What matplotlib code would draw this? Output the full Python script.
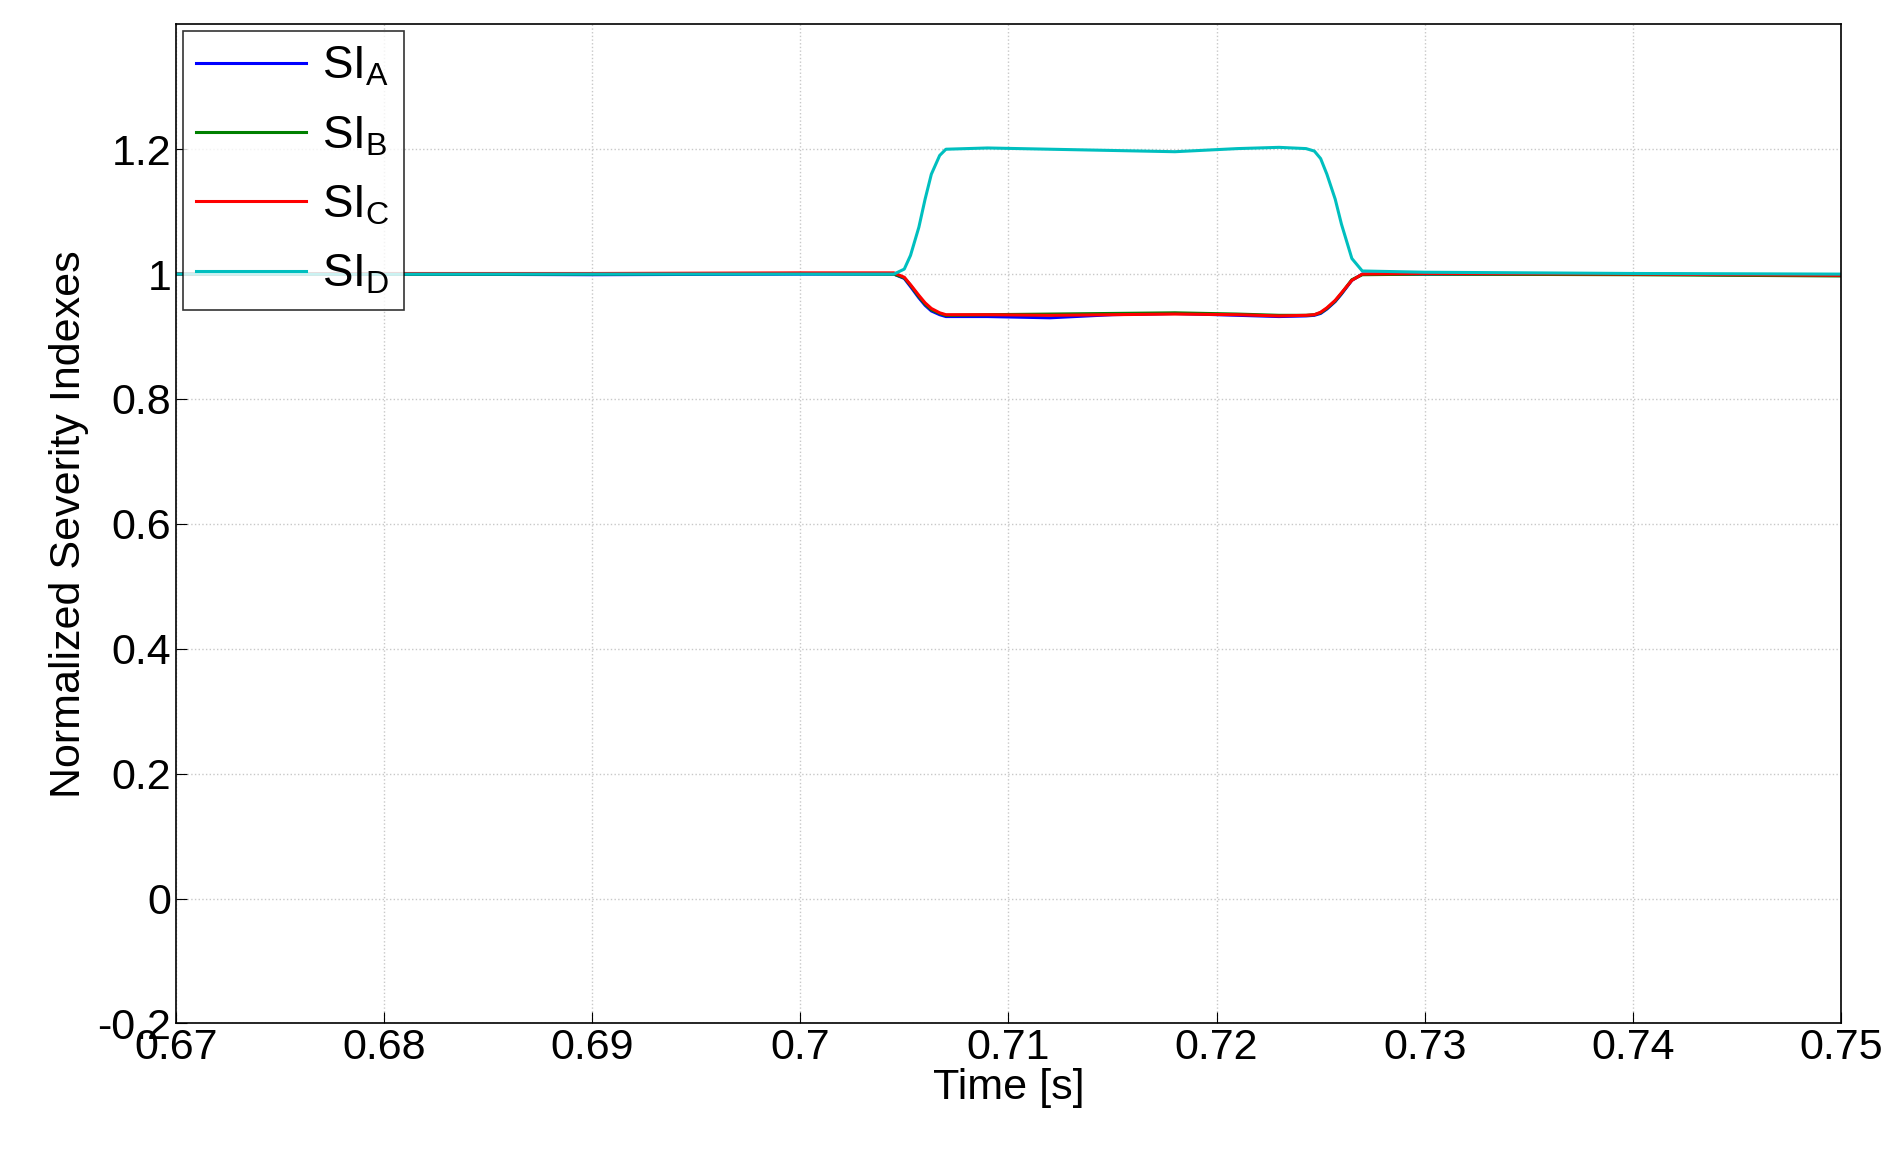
import matplotlib
matplotlib.use('Agg')
import matplotlib.pyplot as plt

plt.rcParams['font.family'] = ['Liberation Sans', 'DejaVu Sans']
plt.rcParams['mathtext.fontset'] = 'custom'
plt.rcParams['mathtext.rm'] = 'Liberation Sans'

t = [0.670, 0.680, 0.690, 0.700, 0.7045, 0.705, 0.7053, 0.7057, 0.706, 0.7063, 0.7067, 0.707, 0.709,
     0.712, 0.715, 0.718, 0.721, 0.723, 0.7243, 0.7247, 0.725, 0.7253, 0.7257, 0.726, 0.7265, 0.727,
     0.730, 0.740, 0.750]
si_a = [1.0, 1.0, 0.999, 1.0, 1.0, 0.993, 0.98, 0.962, 0.95, 0.941, 0.935, 0.932, 0.932,
        0.930, 0.935, 0.937, 0.934, 0.932, 0.933, 0.934, 0.937, 0.944, 0.956, 0.968, 0.99, 1.0,
        1.0, 1.0, 0.998]
si_b = [1.0, 1.0, 1.0, 1.001, 1.0, 0.994, 0.982, 0.964, 0.952, 0.943, 0.937, 0.934, 0.935,
        0.936, 0.937, 0.938, 0.936, 0.934, 0.934, 0.935, 0.938, 0.945, 0.957, 0.969, 0.991, 0.999,
        1.0, 0.999, 0.997]
si_c = [1.0, 1.001, 1.001, 1.002, 1.002, 0.995, 0.983, 0.966, 0.954, 0.945, 0.938, 0.935, 0.935,
        0.934, 0.935, 0.936, 0.935, 0.933, 0.934, 0.935, 0.939, 0.946, 0.958, 0.97, 0.99, 1.0,
        1.001, 1.0, 0.998]
si_d = [1.0, 1.0, 1.0, 1.0, 1.0, 1.008, 1.03, 1.075, 1.12, 1.16, 1.19, 1.2, 1.202,
        1.2, 1.198, 1.196, 1.201, 1.203, 1.201, 1.197, 1.185, 1.16, 1.12, 1.08, 1.025, 1.005,
        1.003, 1.001, 1.0]

fig = plt.figure(figsize=(18.99, 11.59), dpi=100)
ax = fig.add_axes([0.0925, 0.117, 0.877, 0.862])
ax.plot(t, si_a, color='#0000ff', lw=2.2, label='SI$_\\mathregular{A}$')
ax.plot(t, si_b, color='#008000', lw=2.2, label='SI$_\\mathregular{B}$')
ax.plot(t, si_c, color='#ff0000', lw=2.2, label='SI$_\\mathregular{C}$')
ax.plot(t, si_d, color='#00bfbf', lw=2.2, label='SI$_\\mathregular{D}$')

ax.set_xlim(0.67, 0.75)
ax.set_ylim(-0.2, 1.4)
xt = [0.67, 0.68, 0.69, 0.70, 0.71, 0.72, 0.73, 0.74, 0.75]
ax.set_xticks(xt)
ax.set_xticklabels(['0.67', '0.68', '0.69', '0.7', '0.71', '0.72', '0.73', '0.74', '0.75'])
yt = [-0.2, 0, 0.2, 0.4, 0.6, 0.8, 1, 1.2]
ax.set_yticks(yt)
ax.set_yticklabels(['-0.2', '0', '0.2', '0.4', '0.6', '0.8', '1', '1.2'])
ax.tick_params(labelsize=31, direction='in', length=8, pad=3)
ax.grid(True, linestyle=':', color='#c8c8c8', lw=1)
ax.set_xlabel('Time [s]', fontsize=31, labelpad=0)
ax.set_ylabel('Normalized Severity Indexes', fontsize=31, labelpad=6)
for s in ax.spines.values():
    s.set_linewidth(1.2)
leg = ax.legend(loc='upper left', fontsize=33, fancybox=False, edgecolor='black',
                borderaxespad=0.15, handlelength=2.4, handletextpad=0.35,
                labelspacing=0.55, borderpad=0.3)
leg.get_frame().set_linewidth(1.2)
fig.savefig('out.png', dpi=100)
